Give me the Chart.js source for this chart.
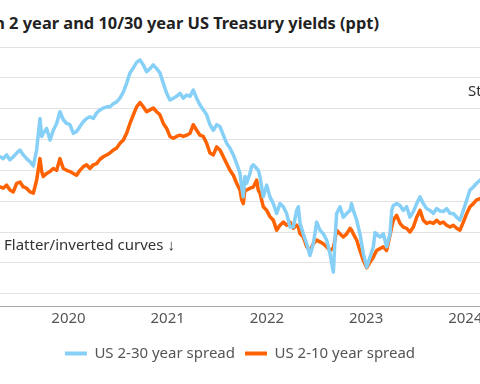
<!DOCTYPE html>
<html>
<head>
<meta charset="utf-8">
<script src="https://cdn.jsdelivr.net/npm/chart.js@4.4.1/dist/chart.umd.min.js"></script>
<style>
  html, body { margin: 0; padding: 0; background: #fff; }
  body { width: 480px; height: 384px; overflow: hidden; position: relative; font-family: "Noto Sans", sans-serif; }
  #title { position: absolute; right: 101px; top: 11px; white-space: nowrap; font-size: 16.4px; font-weight: bold; color: #222; }
  #wrap { position: absolute; left: -60px; top: 0; width: 600px; height: 384px; }
</style>
</head>
<body>
<div id="title">Spread between 2 year and 10/30 year US Treasury yields (ppt)</div>
<div id="wrap"><canvas id="chart" width="600" height="384"></canvas></div>
<script>
// dates as decimal years (roughly every 12 days)
const dates = [
  2019.810, 2019.843, 2019.877, 2019.910, 2019.944, 2019.978, 2020.011, 2020.045, 2020.078, 2020.112,
  2020.146, 2020.179, 2020.213, 2020.230, 2020.246, 2020.280, 2020.314, 2020.347, 2020.381, 2020.414,
  2020.448, 2020.482, 2020.515, 2020.549, 2020.582, 2020.616, 2020.650, 2020.683, 2020.717, 2020.750,
  2020.784, 2020.818, 2020.851, 2020.885, 2020.918, 2020.952, 2020.986, 2021.019, 2021.053, 2021.086,
  2021.120, 2021.154, 2021.187, 2021.221, 2021.254, 2021.288, 2021.322, 2021.355, 2021.389, 2021.422,
  2021.456, 2021.490, 2021.523, 2021.557, 2021.590, 2021.624, 2021.658, 2021.691, 2021.725, 2021.758,
  2021.792, 2021.826, 2021.859, 2021.893, 2021.926, 2021.960, 2021.994, 2022.027, 2022.061, 2022.094,
  2022.128, 2022.162, 2022.195, 2022.229, 2022.246, 2022.262, 2022.279, 2022.296, 2022.330, 2022.346,
  2022.363, 2022.397, 2022.413, 2022.430, 2022.447, 2022.464, 2022.498, 2022.531, 2022.565, 2022.598,
  2022.632, 2022.666, 2022.699, 2022.733, 2022.766, 2022.800, 2022.817, 2022.834, 2022.867, 2022.901,
  2022.934, 2022.968, 2023.002, 2023.035, 2023.069, 2023.102, 2023.136, 2023.170, 2023.186, 2023.203,
  2023.237, 2023.270, 2023.304, 2023.338, 2023.354, 2023.371, 2023.405, 2023.438, 2023.472, 2023.506,
  2023.539, 2023.573, 2023.590, 2023.606, 2023.640, 2023.674, 2023.707, 2023.741, 2023.758, 2023.774,
  2023.808, 2023.842, 2023.875, 2023.909, 2023.942, 2023.976, 2024.010, 2024.043, 2024.077, 2024.110,
  2024.144, 2024.178, 2024.211, 2024.245, 2024.278, 2024.312, 2024.346, 2024.379, 2024.413, 2024.446,
  2024.480, 2024.514, 2024.547, 2024.581, 2024.614, 2024.648
];

// US 2-30 year spread (ppt)
const spread2s30s = [
  0.72, 0.69, 0.75, 0.67, 0.72, 0.78, 0.83, 0.75, 0.69, 0.64,
  0.57, 0.83, 1.34, 1.05, 1.10, 1.18, 0.99, 1.15, 1.26, 1.45,
  1.32, 1.26, 1.24, 1.10, 1.13, 1.21, 1.29, 1.34, 1.37, 1.34,
  1.43, 1.48, 1.51, 1.53, 1.53, 1.58, 1.61, 1.67, 1.77, 1.91,
  2.08, 2.16, 2.25, 2.29, 2.21, 2.10, 2.15, 2.21, 2.15, 2.08,
  1.91, 1.75, 1.64, 1.67, 1.70, 1.75, 1.67, 1.72, 1.70, 1.80,
  1.67, 1.56, 1.48, 1.40, 1.24, 1.15, 1.24, 1.21, 1.07, 0.94,
  0.86, 0.75, 0.61, 0.45, 0.23, 0.07, 0.40, 0.29, 0.45, 0.56,
  0.59, 0.53, 0.50, 0.40, 0.23, 0.07, 0.26, 0.07, -0.04, -0.20,
  -0.04, -0.09, -0.20, -0.42, -0.42, -0.15, -0.09, -0.36, -0.53, -0.69,
  -0.88, -0.69, -0.34, -0.47, -0.53, -0.63, -0.85, -1.15, -0.63, -0.20,
  -0.09, -0.26, -0.20, -0.15, -0.04, -0.15, -0.31, -0.53, -0.85, -1.07,
  -0.91, -0.74, -0.51, -0.53, -0.58, -0.53, -0.74, -0.53, -0.15, -0.07,
  -0.04, -0.07, -0.15, -0.09, -0.26, -0.17, -0.04, 0.07, -0.04, -0.12,
  -0.15, -0.20, -0.12, -0.16, -0.17, -0.12, -0.20, -0.20, -0.26, -0.31,
  -0.15, 0.02, 0.18, 0.23, 0.29, 0.34
];

// US 2-10 year spread (ppt)
const spread2s10s = [
  0.23, 0.21, 0.26, 0.18, 0.15, 0.29, 0.31, 0.23, 0.21, 0.15,
  0.13, 0.34, 0.69, 0.48, 0.40, 0.45, 0.48, 0.53, 0.50, 0.69,
  0.53, 0.50, 0.48, 0.45, 0.42, 0.50, 0.56, 0.59, 0.53, 0.59,
  0.61, 0.68, 0.72, 0.75, 0.78, 0.83, 0.86, 0.94, 0.99, 1.10,
  1.26, 1.40, 1.53, 1.60, 1.53, 1.45, 1.48, 1.51, 1.45, 1.40,
  1.26, 1.18, 1.05, 1.02, 1.05, 1.07, 1.05, 1.07, 1.10, 1.24,
  1.15, 1.07, 1.05, 0.94, 0.78, 0.75, 0.88, 0.83, 0.72, 0.61,
  0.50, 0.42, 0.29, 0.18, 0.02, -0.04, 0.18, 0.18, 0.21, 0.22,
  0.23, 0.34, 0.18, 0.13, 0.02, -0.09, -0.15, -0.25, -0.31, -0.47,
  -0.39, -0.34, -0.39, -0.34, -0.44, -0.39, -0.42, -0.53, -0.58, -0.74,
  -0.80, -0.69, -0.63, -0.66, -0.69, -0.74, -0.80, -0.76, -0.63, -0.47,
  -0.53, -0.58, -0.53, -0.44, -0.47, -0.53, -0.63, -0.80, -0.96, -1.08,
  -0.99, -0.91, -0.85, -0.80, -0.77, -0.74, -0.80, -0.55, -0.42, -0.31,
  -0.23, -0.36, -0.42, -0.44, -0.50, -0.42, -0.26, -0.15, -0.31, -0.36,
  -0.34, -0.36, -0.31, -0.36, -0.34, -0.39, -0.42, -0.39, -0.44, -0.47,
  -0.34, -0.20, -0.09, -0.04, 0.02, 0.04
];

// year labels sit in the middle of each year
const yearTicks = [2020.5, 2021.5, 2022.5, 2023.5, 2024.5];
const gridValues = [-1.5, -1, -0.5, 0, 0.5, 1, 1.5, 2, 2.5];

const blue = '#86d0f7';
const orange = '#ff6200';

function points(values) {
  return dates.map((d, i) => ({ x: d, y: values[i] }));
}

// text notes inside the plot
const notes = {
  id: 'notes',
  afterDatasetsDraw(chart) {
    const { ctx, chartArea, scales } = chart;
    ctx.save();
    ctx.font = '15px "Noto Sans"';
    ctx.fillStyle = '#333';
    ctx.textBaseline = 'middle';
    ctx.textAlign = 'left';
    ctx.fillText('Flatter/inverted curves \u2193', chartArea.left + 4, scales.y.getPixelForValue(-0.73));
    ctx.fillText('Steeper curves \u2191', chartArea.right - 12, scales.y.getPixelForValue(1.78));
    ctx.restore();
  }
};

new Chart(document.getElementById('chart'), {
  type: 'line',
  data: {
    datasets: [
      {
        label: 'US 2-30 year spread',
        data: points(spread2s30s),
        borderColor: blue,
        backgroundColor: blue,
        borderWidth: 3.5,
      },
      {
        label: 'US 2-10 year spread',
        data: points(spread2s10s),
        borderColor: orange,
        backgroundColor: orange,
        borderWidth: 3.5,
      },
    ],
  },
  options: {
    responsive: false,
    animation: false,
    devicePixelRatio: 1,
    layout: { padding: { left: 60, right: 60, top: 47, bottom: 13 } },
    elements: {
      point: { radius: 0 },
      line: { tension: 0, borderJoinStyle: 'round', borderCapStyle: 'round' },
    },
    scales: {
      x: {
        type: 'linear',
        min: 2019.81,
        max: 2024.648,
        afterBuildTicks: (scale) => { scale.ticks = yearTicks.map((v) => ({ value: v })); },
        afterFit: (scale) => { scale.height = 30; },
        ticks: {
          autoSkip: false,
          maxRotation: 0,
          padding: 4,
          color: '#555',
          font: { family: 'Noto Sans', size: 15 },
          callback: (v) => String(Math.floor(v)),
        },
        grid: { display: false, drawTicks: false },
        border: { display: true, color: '#a6a6a6', width: 1 },
      },
      y: {
        min: -1.7,
        max: 2.5,
        afterBuildTicks: (scale) => { scale.ticks = gridValues.map((v) => ({ value: v })); },
        afterFit: (scale) => { scale.width = 0; },
        ticks: { display: false },
        grid: { color: '#e2e2e2', lineWidth: 1, drawTicks: false },
        border: { display: false },
      },
    },
    plugins: {
      legend: {
        position: 'bottom',
        labels: {
          boxWidth: 22,
          boxHeight: 4,
          padding: 10,
          color: '#555',
          font: { family: 'Noto Sans', size: 15 },
          generateLabels: (chart) =>
            Chart.defaults.plugins.legend.labels.generateLabels(chart).map((l) => ({ ...l, lineWidth: 0 })),
        },
      },
      tooltip: { enabled: false },
    },
  },
  plugins: [notes],
});
</script>
</body>
</html>
